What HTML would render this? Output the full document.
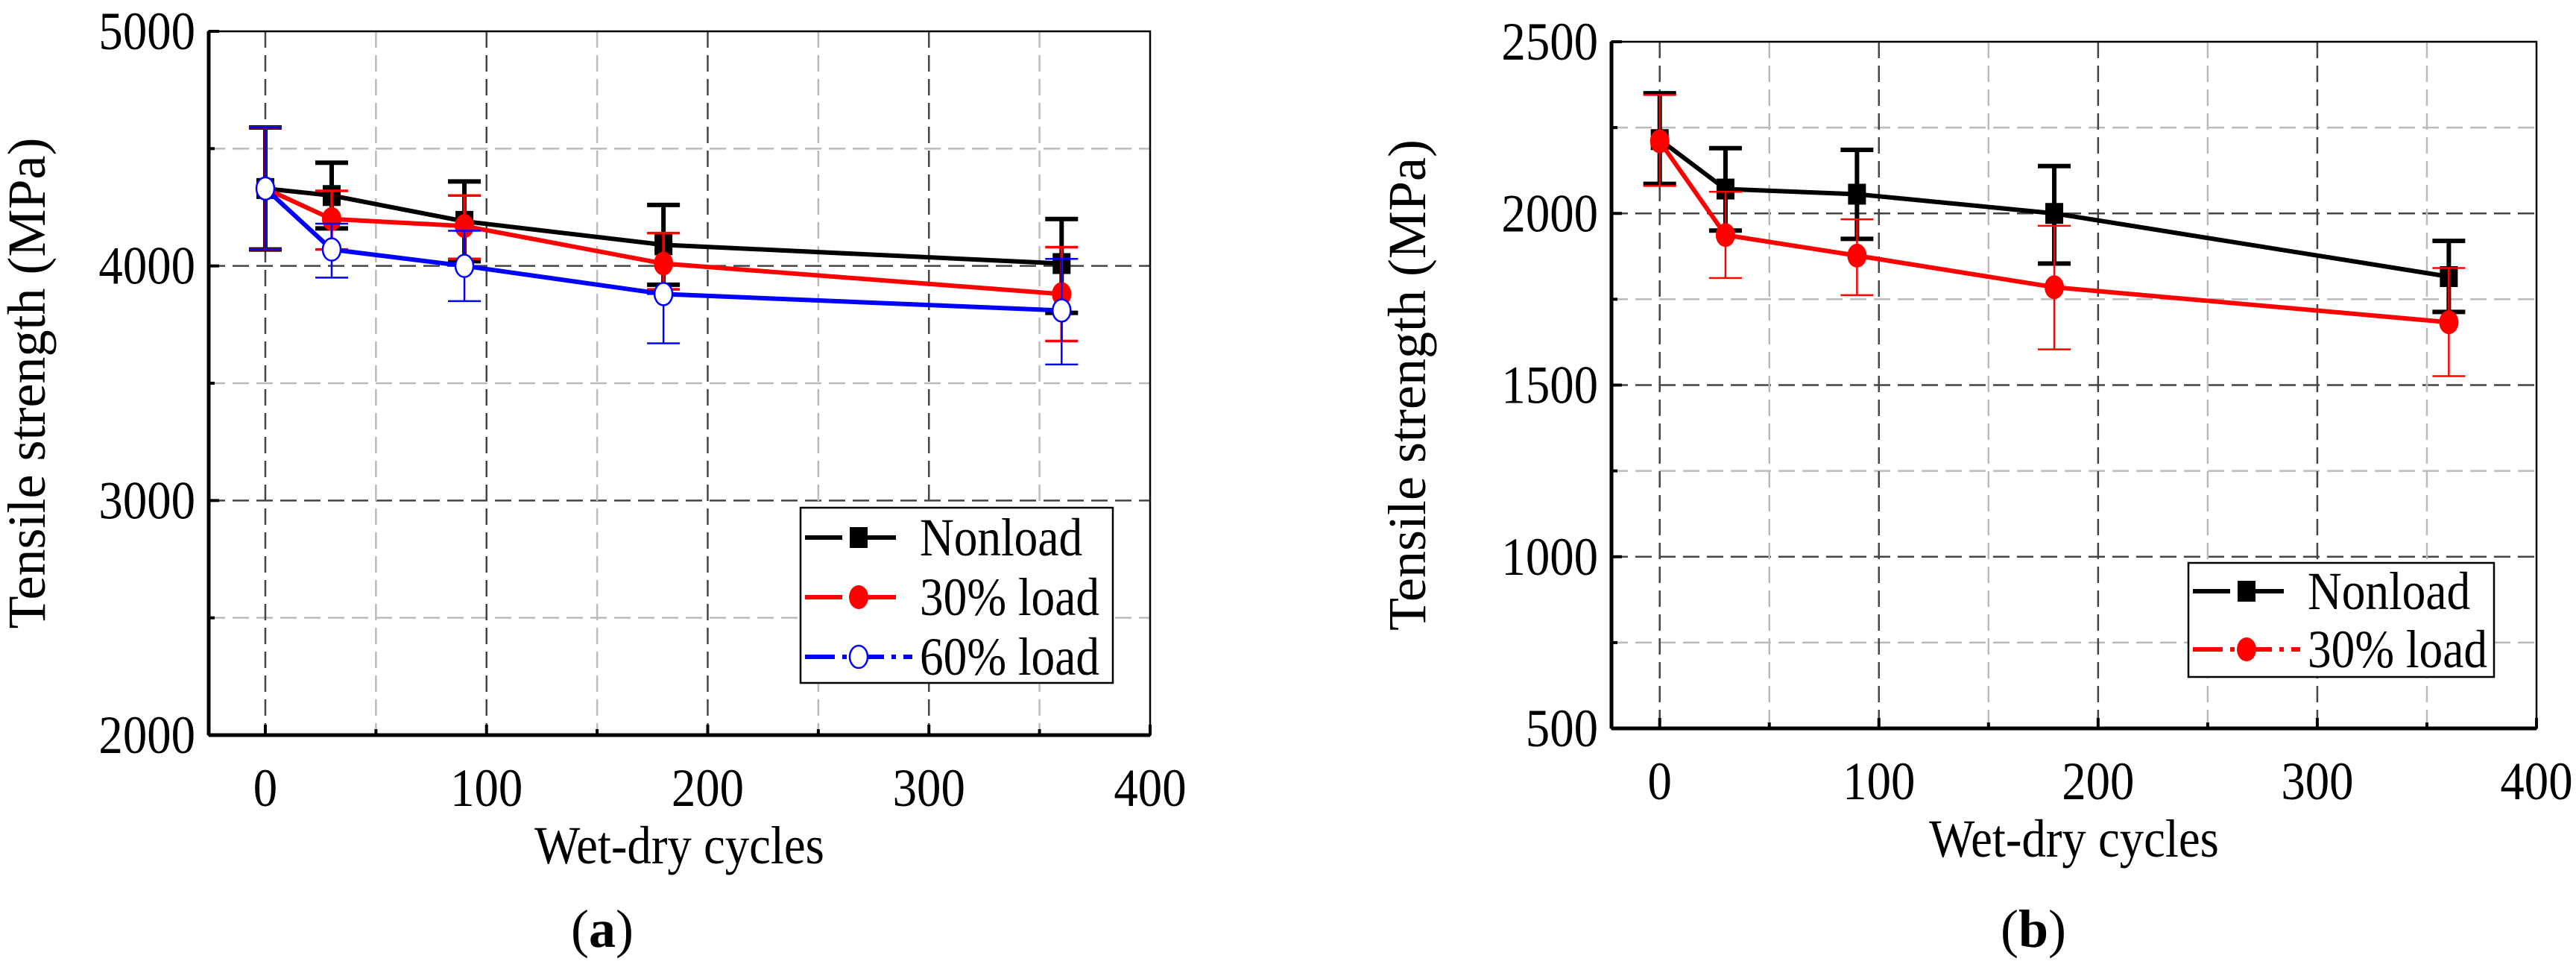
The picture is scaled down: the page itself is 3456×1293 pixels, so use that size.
<!DOCTYPE html>
<html><head><meta charset="utf-8"><style>
html,body{margin:0;padding:0;background:#fff}
svg{display:block}
text{font-family:"Liberation Serif","Times New Roman","DejaVu Serif",serif}
</style></head><body>
<svg id="svg" width="3456" height="1293" viewBox="0 0 3456 1293"></svg>
<script>
const cycles=[0,30,90,180,360];
const aNon=[4330,4300,4190,4090,4010];
const aNonHi=[4590,4440,4360,4260,4200];
const aNonLo=[4070,4160,4020,3920,3800];
const a30=[4330,4200,4170,4010,3880];
const a30Hi=[4590,4320,4300,4140,4080];
const a30Lo=[4070,4070,4030,3900,3680];
const a60=[4330,4070,4000,3880,3810];
const a60Hi=[4590,4180,4150,3880,4030];
const a60Lo=[4070,3950,3850,3670,3580];
const bNon=[2215,2071,2056,2000,1816];
const bNonHi=[2350,2190,2185,2138,1920];
const bNonLo=[2086,1950,1926,1854,1713];
const b30=[2210,1937,1877,1785,1683];
const b30Hi=[2345,2063,1983,1964,1841];
const b30Lo=[2080,1812,1762,1604,1526];
const aYTicks=[2000,3000,4000,5000];
const bYTicks=[500,1000,1500,2000,2500];
const xTicks=[0,100,200,300,400];

const NS="http://www.w3.org/2000/svg";
const svg=document.getElementById('svg');
function mk(t,a,p){const e=document.createElementNS(NS,t);for(const k in a)e.setAttribute(k,a[k]);if(t==='text')e.style.fontFamily='"Liberation Serif","Times New Roman","DejaVu Serif",serif';(p||svg).appendChild(e);return e;}

function panel(cfg){
  const g=mk('g',{});
  
  
  const {L,R,T,B,x0,x1,y0,y1}=cfg;
  const X=v=>L+(v-x0)/(x1-x0)*(R-L);
  const Y=v=>B-(v-y0)/(y1-y0)*(B-T);
  for(let v=y0+cfg.ystep/2; v<y1; v+=cfg.ystep/2){
    const major=Math.round((v-y0)/(cfg.ystep/2))%2===0;
    const l=mk('line',{x1:L,x2:R,y1:Y(v),y2:Y(v),stroke:major?'#444':'#bbb','stroke-width':2.5,'stroke-dasharray':'22,10'},g);
    
    
  }
  for(let v=0; v<400; v+=50){
    const major=v%100===0;
    const l=mk('line',{x1:X(v),x2:X(v),y1:T,y2:B,stroke:major?'#444':'#bbb','stroke-width':2.5,'stroke-dasharray':'22,10'},g);
    
    
  }
  const fr=mk('rect',{x:L,y:T,width:R-L,height:B-T,fill:'none',stroke:'#000','stroke-width':2.5},g);
  
  
  mk('line',{x1:L,x2:R,y1:B,y2:B,stroke:'#000','stroke-width':5},g);
  mk('line',{x1:L,x2:L,y1:T,y2:B,stroke:'#000','stroke-width':5},g);
  for(let v=0; v<=400; v+=50){mk('line',{x1:X(v),x2:X(v),y1:B,y2:B-(v%100?8:14),stroke:'#000','stroke-width':4},g);}
  for(let v=y0; v<=y1; v+=cfg.ystep/2){mk('line',{x1:L,x2:L+(Math.round((v-y0)/(cfg.ystep/2))%2?8:14),y1:Y(v),y2:Y(v),stroke:'#000','stroke-width':4},g);}
  cfg.yTicks.forEach(v=>{
    const t=mk('text',{x:0,y:0,'text-anchor':'end','font-size':72,transform:`translate(${L-18},${Y(v)+24}) scale(0.9,1)`},g);
    t.textContent=v;
    
    
  });
  xTicks.forEach(v=>{
    const t=mk('text',{x:0,y:0,'text-anchor':'middle','font-size':72,transform:`translate(${X(v)},${B+95}) scale(0.9,1)`},g);
    t.textContent=v;
    
    
  });
  const yt=mk('text',{x:0,y:0,'text-anchor':'middle','font-size':72,transform:`translate(${cfg.ytx},${(T+B)/2}) rotate(-90)`},g);
  yt.textContent='Tensile strength (MPa)';
  
  
  const xt=mk('text',{x:0,y:0,'text-anchor':'middle','font-size':72,transform:`translate(${(L+R)/2},${B+172}) scale(0.9,1)`},g);
  xt.textContent='Wet-dry cycles';
  
  
  const pl=mk('text',{x:cfg.lx,y:1270,'text-anchor':'middle','font-size':72},g);
  pl.innerHTML='(<tspan font-weight="bold">'+cfg.label+'</tspan>)';
  
  
  cfg.series.forEach(s=>{
    const sg=mk('g',{},g);
    
    
    const pts=cycles.map((c,i)=>X(c)+','+Y(s.v[i])).join(' ');
    const pl=mk('polyline',{points:pts,fill:'none',stroke:s.c,'stroke-width':6},sg);
    
    
    cycles.forEach((c,i)=>{
      const x=X(c);
      const e=mk('path',{d:`M${x},${Y(s.hi[i])}V${Y(s.lo[i])}M${x-22},${Y(s.hi[i])}h44M${x-22},${Y(s.lo[i])}h44`,stroke:s.c,'stroke-width':s.ew,fill:'none'},sg);
      
      
      let m;
      if(s.m==='sq') m=mk('rect',{x:x-12,y:Y(s.v[i])-14,width:24,height:28,fill:s.c},sg);
      else if(s.m==='ci') m=mk('ellipse',{cx:x,cy:Y(s.v[i]),rx:13,ry:16,fill:s.c},sg);
      else m=mk('ellipse',{cx:x,cy:Y(s.v[i]),rx:12,ry:15,fill:'#fff',stroke:s.c,'stroke-width':2.5},sg);
      
      
    });
  });
  const lg=mk('g',{},g);
  
  
  const lb=cfg.leg;
  mk('rect',{x:lb.x,y:lb.y,width:lb.w,height:lb.h,fill:'#fff',stroke:'#000','stroke-width':2.5},lg);
  cfg.series.forEach((s,i)=>{
    const y=lb.y+lb.y0+i*lb.dy;
    const ent=mk('g',{},lg);
    
    
    mk('line',{x1:lb.x+6,x2:lb.x+150,y1:y,y2:y,stroke:s.c,'stroke-width':6,'stroke-dasharray':s.dash},ent);
    const cx=lb.x+78;
    if(s.m==='sq') mk('rect',{x:cx-12,y:y-14,width:24,height:28,fill:s.c},ent);
    else if(s.m==='ci') mk('ellipse',{cx:cx,cy:y,rx:13,ry:16,fill:s.c},ent);
    else mk('ellipse',{cx:cx,cy:y,rx:12,ry:15,fill:'#fff',stroke:s.c,'stroke-width':2.5},ent);
    const t=mk('text',{x:0,y:0,'font-size':72,transform:`translate(${lb.x+160},${y+24}) scale(0.88,1)`},ent);
    t.textContent=s.name;
  });
}

panel({name:'chart-a',label:'a',lx:808,L:280,R:1543,T:42,B:986,x0:-25.6,x1:400,y0:2000,y1:5000,ystep:1000,yTicks:aYTicks,ytx:60,
  leg:{x:1074,y:681,w:419,h:235,y0:40,dy:80},
  series:[
   {id:'nonload',name:'Nonload',c:'#000',v:aNon,hi:aNonHi,lo:aNonLo,m:'sq',ew:6,dash:'50,22'},
   {id:'load30',name:'30% load',c:'#f00',v:a30,hi:a30Hi,lo:a30Lo,m:'ci',ew:3.5,dash:'50,22'},
   {id:'load60',name:'60% load',c:'#00f',v:a60,hi:a60Hi,lo:a60Lo,m:'op',ew:2.5,dash:'40,10,6,10'}]});
panel({name:'chart-b',label:'b',lx:2728,L:2162,R:3403,T:56,B:977,x0:-22,x1:400,y0:500,y1:2500,ystep:500,yTicks:bYTicks,ytx:1912,
  leg:{x:2936,y:755,w:410,h:153,y0:38,dy:78},
  series:[
   {id:'nonload',name:'Nonload',c:'#000',v:bNon,hi:bNonHi,lo:bNonLo,m:'sq',ew:6,dash:'50,22'},
   {id:'load30',name:'30% load',c:'#f00',v:b30,hi:b30Hi,lo:b30Lo,m:'ci',ew:2.5,dash:'40,10,6,10'}]});
</script>
</body></html>
